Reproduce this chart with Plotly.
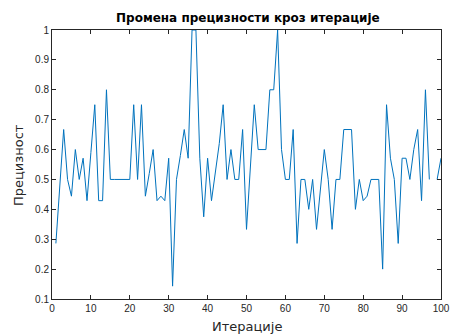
import plotly.graph_objects as go

iterations = list(range(1, 101))
precision = [
    0.286, 0.476, 0.667, 0.5, 0.444, 0.6, 0.5, 0.571, 0.429, 0.59,
    0.75, 0.429, 0.429, 0.8, 0.5, 0.5, 0.5, 0.5, 0.5, 0.5,
    0.75, 0.5, 0.75, 0.444, 0.52, 0.6, 0.429, 0.444, 0.429, 0.571,
    0.143, 0.5, 0.58, 0.667, 0.571, 1.0, 1.0, 0.571, 0.375, 0.571,
    0.429, 0.52, 0.62, 0.75, 0.5, 0.6, 0.5, 0.5, 0.667, 0.333,
    0.54, 0.75, 0.6, 0.6, 0.6, 0.8, 0.8, 1.0, 0.6, 0.5,
    0.5, 0.667, 0.286, 0.5, 0.5, 0.4, 0.5, 0.333, 0.467, 0.6,
    0.5, 0.333, 0.5, 0.5, 0.667, 0.667, 0.667, 0.4, 0.5, 0.429,
    0.444, 0.5, 0.5, 0.5, 0.2, 0.75, 0.571, 0.5, 0.286, 0.571,
    0.571, 0.5, 0.6, 0.667, 0.429, 0.8, 0.5, None, 0.5, 0.571,
]

x_ticks = [0, 10, 20, 30, 40, 50, 60, 70, 80, 90, 100]
y_ticks = [0.1, 0.2, 0.3, 0.4, 0.5, 0.6, 0.7, 0.8, 0.9, 1.0]
y_ticklabels = ["0.1", "0.2", "0.3", "0.4", "0.5", "0.6", "0.7", "0.8", "0.9", "1"]

title_text = "Промена прецизности кроз итерације"
x_title = "Итерације"
y_title = "Прецизност"

FONT = "Liberation Sans, Arial, sans-serif"
CYR = "DejaVu Sans, sans-serif"
AX = "#262626"

W, H = 452, 336
L, R, T, B = 52, 11, 30, 37
PW, PH = W - L - R, H - T - B

fig = go.Figure()
fig.add_trace(go.Scatter(
    x=iterations, y=precision, mode="lines",
    line=dict(color="#0072BD", width=1),
    connectgaps=False, showlegend=False,
))

axis_common = dict(
    showgrid=False, zeroline=False, showline=True, linecolor=AX, linewidth=1,
    mirror="ticks", ticks="inside", ticklen=4, tickwidth=1, tickcolor=AX,
    tickfont=dict(family=FONT, size=10, color=AX), automargin=False,
)

fig.update_layout(
    width=W, height=H,
    margin=dict(l=L, r=R, t=T, b=B, autoexpand=False),
    paper_bgcolor="white", plot_bgcolor="white",
    xaxis=dict(range=[0, 100], tickvals=x_ticks, **axis_common),
    yaxis=dict(range=[0.1, 1], tickvals=y_ticks, ticktext=y_ticklabels, **axis_common),
)

fig.add_annotation(text="<b>" + title_text + "</b>", xref="paper", yref="paper",
                   x=(248 - L) / PW, y=(H - B - 18) / PH, showarrow=False,
                   xanchor="center", yanchor="middle",
                   font=dict(family=CYR, size=12, color="black"))
fig.add_annotation(text=x_title, xref="paper", yref="paper",
                   x=(246.5 - L) / PW, y=(H - B - 327) / PH, showarrow=False,
                   xanchor="center", yanchor="middle",
                   font=dict(family=CYR, size=13, color=AX))
fig.add_annotation(text=y_title, xref="paper", yref="paper",
                   x=(18 - L) / PW, y=(H - B - 165) / PH, showarrow=False,
                   xanchor="center", yanchor="middle", textangle=-90,
                   font=dict(family=CYR, size=13, color=AX))

fig.write_html(
    "out.html",
    config={"displayModeBar": False},
    post_script="document.body.style.margin='0';document.body.style.padding='0';document.body.style.overflow='hidden';",
)
